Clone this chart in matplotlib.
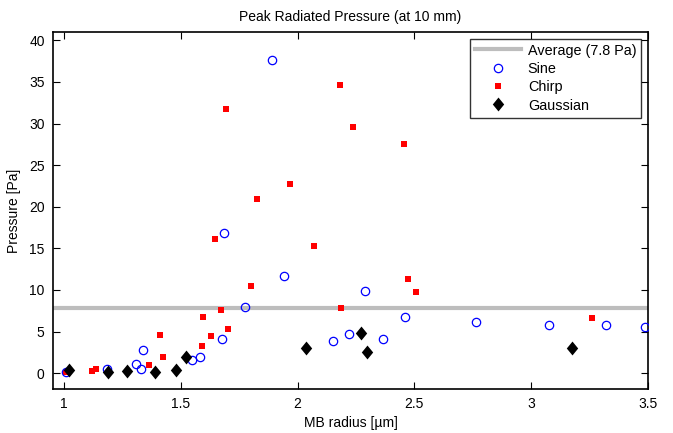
import matplotlib
matplotlib.use("Agg")
import matplotlib.pyplot as plt

plt.rcParams['font.family'] = ['Liberation Sans', 'DejaVu Sans']

# data
avg_pressure = 7.8

sine_r = [1.007, 1.184, 1.307, 1.328, 1.338, 1.548, 1.584, 1.678, 1.685, 1.773,
          1.89, 1.94, 2.153, 2.222, 2.287, 2.364, 2.458, 2.762, 3.075, 3.32, 3.487]
sine_p = [0.2, 0.5, 1.16, 0.48, 2.8, 1.64, 2.0, 4.16, 16.8, 8.0,
          37.66, 11.7, 3.84, 4.68, 9.88, 4.16, 6.76, 6.12, 5.76, 5.8, 5.6]

chirp_r = [1.01, 1.121, 1.137, 1.364, 1.412, 1.424, 1.589, 1.596, 1.631, 1.645,
           1.673, 1.692, 1.70, 1.799, 1.828, 1.967, 2.069, 2.183, 2.186, 2.237,
           2.454, 2.473, 2.507, 3.259]
chirp_p = [0.2, 0.32, 0.56, 0.96, 4.64, 1.92, 3.24, 6.76, 4.44, 16.09,
           7.64, 31.7, 5.36, 10.48, 20.9, 22.7, 15.28, 34.6, 7.8, 29.6,
           27.6, 11.3, 9.8, 6.6]

gauss_r = [1.021, 1.188, 1.268, 1.391, 1.481, 1.522, 2.035, 2.27, 2.296, 3.173]
gauss_p = [0.44, 0.16, 0.28, 0.16, 0.44, 1.96, 3.04, 4.88, 2.56, 3.08]

# matlab style diamond, a bit taller than wide
diamond = [(0, 1), (0.82, 0), (0, -1), (-0.82, 0), (0, 1)]

fig = plt.figure(figsize=(6.73, 4.33), dpi=100)
ax = fig.add_axes([53 / 673, 1 - 389 / 433, 595 / 673, 357 / 433])

ax.axhline(avg_pressure, color='#bdbdbd', lw=3, label='Average (7.8 Pa)', zorder=1)
ax.plot(sine_r, sine_p, 'o', mfc='none', mec='#0000ff', ms=6, mew=0.9,
        label='Sine', zorder=3)
ax.plot(chirp_r, chirp_p, 's', color='#ff0000', ms=4.5, mew=0, label='Chirp', zorder=2)
ax.plot(gauss_r, gauss_p, ls='none', marker=diamond, color='black', ms=10, mew=0,
        label='Gaussian', zorder=4)

ax.set_xlim(0.953, 3.5)
ax.set_ylim(-1.9, 41)
ax.set_xticks([1, 1.5, 2, 2.5, 3, 3.5])
ax.set_xticklabels(['1', '1.5', '2', '2.5', '3', '3.5'])
ax.set_yticks(range(0, 41, 5))
ax.tick_params(direction='in', top=True, right=True, length=5, width=0.8,
               labelsize=10, pad=6)
for s in ax.spines.values():
    s.set_linewidth(1.2)

ax.set_xlabel('MB radius [µm]', fontsize=10, labelpad=3)
ax.set_ylabel('Pressure [Pa]', fontsize=10, labelpad=6)
ax.set_title('Peak Radiated Pressure (at 10 mm)', fontsize=10, pad=8)

leg = ax.legend(loc='upper right', fontsize=10.4, frameon=True, fancybox=False,
                edgecolor='black', borderaxespad=0.45, handlelength=3.2,
                labelspacing=0.3, borderpad=0.35, handletextpad=0.45)
leg.get_frame().set_linewidth(1.0)

fig.savefig('out.png', dpi=100)
